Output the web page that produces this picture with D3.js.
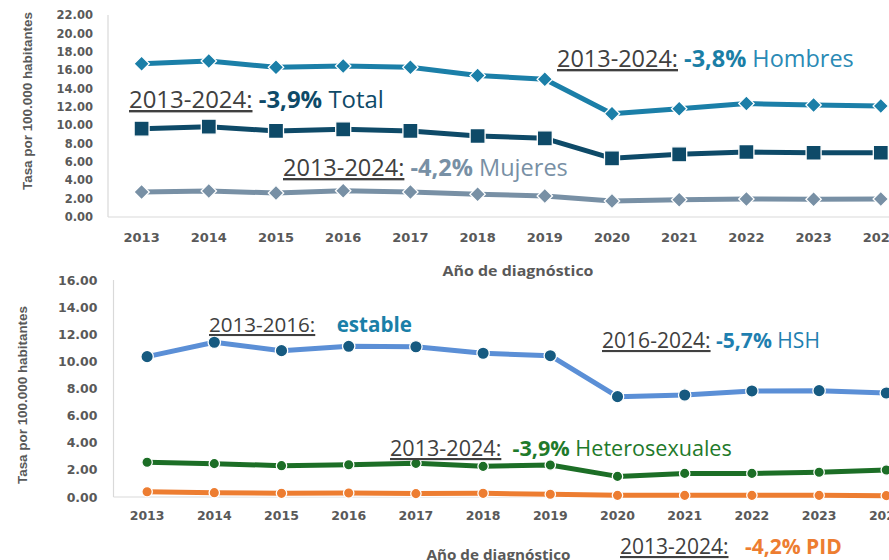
<!DOCTYPE html>
<html><head><meta charset="utf-8">
<script src="https://cdn.jsdelivr.net/npm/d3@7"></script>
<style>
html,body{margin:0;padding:0;background:#fff;}
svg{display:block;}
</style></head>
<body>
<svg id="chart" width="889" height="560"></svg>
<script>
const years = ["2013","2014","2015","2016","2017","2018","2019","2020","2021","2022","2023","2024"];
const hombres = [16.7,17.0,16.3,16.45,16.3,15.4,15.0,11.25,11.8,12.35,12.2,12.1];
const total   = [9.62,9.84,9.37,9.55,9.37,8.82,8.57,6.39,6.83,7.08,7.0,7.0];
const mujeres = [2.72,2.83,2.61,2.87,2.72,2.47,2.29,1.74,1.89,1.96,1.93,1.96];
const hsh     = [10.35,11.41,10.79,11.11,11.08,10.6,10.42,7.4,7.52,7.82,7.84,7.67];
const hetero  = [2.56,2.46,2.31,2.38,2.48,2.26,2.36,1.52,1.74,1.74,1.82,1.99];
const pid     = [0.39,0.32,0.27,0.30,0.25,0.27,0.20,0.12,0.12,0.12,0.12,0.10];
const topTicks = [0,2,4,6,8,10,12,14,16,18,20,22];
const botTicks = [0,2,4,6,8,10,12,14,16];
const yTitle = "Tasa por 100.000 habitantes";
const xTitle = "Año de diagnóstico";

const svg = d3.select("#chart");
const fmt = d3.format(".2f");
const AX = "#595959";

function panel(o){
  const g = svg.append("g");
  const x = d3.scalePoint().domain(years).range([o.x0, o.x0 + 12*67.2]).padding(0.5);
  const y = d3.scaleLinear().domain([0, o.ymax]).range([o.y0, o.y1]);
  g.append("line").attr("x1",o.x0).attr("x2",o.x0).attr("y1",y(o.ymax)).attr("y2",y(0))
    .attr("stroke","#d9d9d9").attr("stroke-width",1.2);
  g.append("line").attr("x1",o.x0).attr("x2",900).attr("y1",y(0)).attr("y2",y(0))
    .attr("stroke","#d9d9d9").attr("stroke-width",1.2);
  g.selectAll(".yt").data(o.ticks).join("text")
    .attr("x", o.x0 - o.tickOff).attr("y", d=>y(d)).attr("dy","0.36em")
    .attr("text-anchor","end").attr("font-family","DejaVu Sans, sans-serif")
    .attr("font-weight","bold").attr("font-size",o.yfs).attr("fill",AX)
    .text(d=>fmt(d));
  g.selectAll(".xt").data(years).join("text")
    .attr("x", d=>x(d)).attr("y", o.xly)
    .attr("text-anchor","middle").attr("font-family","DejaVu Sans, sans-serif")
    .attr("font-weight","bold").attr("font-size",o.xfs).attr("fill",AX)
    .text(d=>d);
  g.append("text").attr("transform",`translate(${o.ytx},${o.yty}) rotate(-90)`)
    .attr("text-anchor","middle").attr("dy","0.35em")
    .attr("font-family","Liberation Sans, Arial, sans-serif").attr("font-weight","bold")
    .attr("font-size",13.5).attr("fill",AX)
    .attr("textLength",178).attr("lengthAdjust","spacingAndGlyphs").text(yTitle);
  g.append("text").attr("x",o.xtx).attr("y",o.xty).attr("text-anchor","middle")
    .attr("font-family","Open Sans, sans-serif").attr("font-weight","bold")
    .attr("font-size",14).attr("fill",AX)
    .attr("textLength",o.xtw).attr("lengthAdjust","spacingAndGlyphs").text(xTitle);
  o.series.forEach(s=>{
    const line = d3.line().x((d,i)=>x(years[i])).y(d=>y(d));
    g.append("path").datum(s.values).attr("d",line).attr("fill","none")
      .attr("stroke","#ffffff").attr("stroke-width",s.lw+2).attr("stroke-linejoin","round");
    g.append("path").datum(s.values).attr("d",line).attr("fill","none")
      .attr("stroke",s.line).attr("stroke-width",s.lw).attr("stroke-linejoin","round");
    const sym = d3.symbol().type(s.shape==="circle"?d3.symbolCircle:d3.symbolSquare).size(s.size);
    g.selectAll(null).data(s.values).join("path")
      .attr("d",sym)
      .attr("transform",(d,i)=>`translate(${x(years[i])},${y(d)})${s.shape==="diamond"?" rotate(45)":""}`)
      .attr("fill",s.marker).attr("stroke","#ffffff").attr("stroke-width",1.3);
  });
}

panel({x0:108, y0:217, y1:15, ymax:22, ticks:topTicks, tickOff:15, yfs:11.5, xfs:13, xly:242,
  ytx:27, yty:101, xtx:518, xty:276, xtw:151,
  series:[
    {values:hombres, line:"#1b7fa8", marker:"#1b7fa8", shape:"diamond", size:118, lw:5},
    {values:total, line:"#0e4a68", marker:"#0e4a68", shape:"square", size:225, lw:5},
    {values:mujeres, line:"#7890a5", marker:"#7890a5", shape:"diamond", size:118, lw:5}
  ]});

panel({x0:113.5, y0:497, y1:280, ymax:16, ticks:botTicks, tickOff:16, yfs:12.5, xfs:12.5, xly:520,
  ytx:22, yty:395, xtx:498.5, xty:560, xtw:144,
  series:[
    {values:hsh, line:"#5b8fd6", marker:"#165a80", shape:"circle", size:Math.PI*6.2*6.2, lw:5},
    {values:hetero, line:"#1c6e26", marker:"#1c6e26", shape:"circle", size:Math.PI*5.2*5.2, lw:5},
    {values:pid, line:"#ed7d31", marker:"#ed7d31", shape:"circle", size:Math.PI*5.2*5.2, lw:5}
  ]});

const NB = "\u00a0";
function annot(a){
  const t = svg.append("text").attr("x",a.x).attr("y",a.y)
    .attr("font-family","Open Sans, sans-serif").attr("font-size",20);
  t.append("tspan").attr("fill","#404040").attr("text-decoration","underline").text(a.p1);
  t.append("tspan").attr("fill",a.c).attr("font-weight","bold").text(a.p2);
  if (a.p3) t.append("tspan").attr("fill",a.c3||a.c).text(a.p3);
  const w = t.node().getComputedTextLength();
  t.attr("font-size", 20*a.w/w);
}
annot({x:557, y:67, w:297, p1:"2013-2024:", p2:NB+"-3,8%", p3:NB+"Hombres", c:"#1a7ea6", c3:"#2a8ab5"});
annot({x:129, y:108, w:255, p1:"2013-2024:", p2:NB+"-3,9%", p3:NB+"Total", c:"#0e4a68"});
annot({x:283, y:176, w:285, p1:"2013-2024:", p2:NB+"-4,2%", p3:NB+"Mujeres", c:"#7890a5"});
annot({x:209, y:332, w:203, p1:"2013-2016:", p2:NB+NB+NB+NB+"estable", p3:"", c:"#1a7fa8"});
annot({x:602, y:348, w:218, p1:"2016-2024:", p2:NB+"-5,7%", p3:NB+"HSH", c:"#1f7fb0"});
annot({x:390, y:456, w:342, p1:"2013-2024:", p2:NB+NB+"-3,9%", p3:NB+"Heterosexuales", c:"#1f7a2b"});
annot({x:620, y:554, w:222, p1:"2013-2024:", p2:NB+NB+NB+"-4,2%"+NB+"PID", p3:"", c:"#ed7d31"});
</script>
</body></html>
